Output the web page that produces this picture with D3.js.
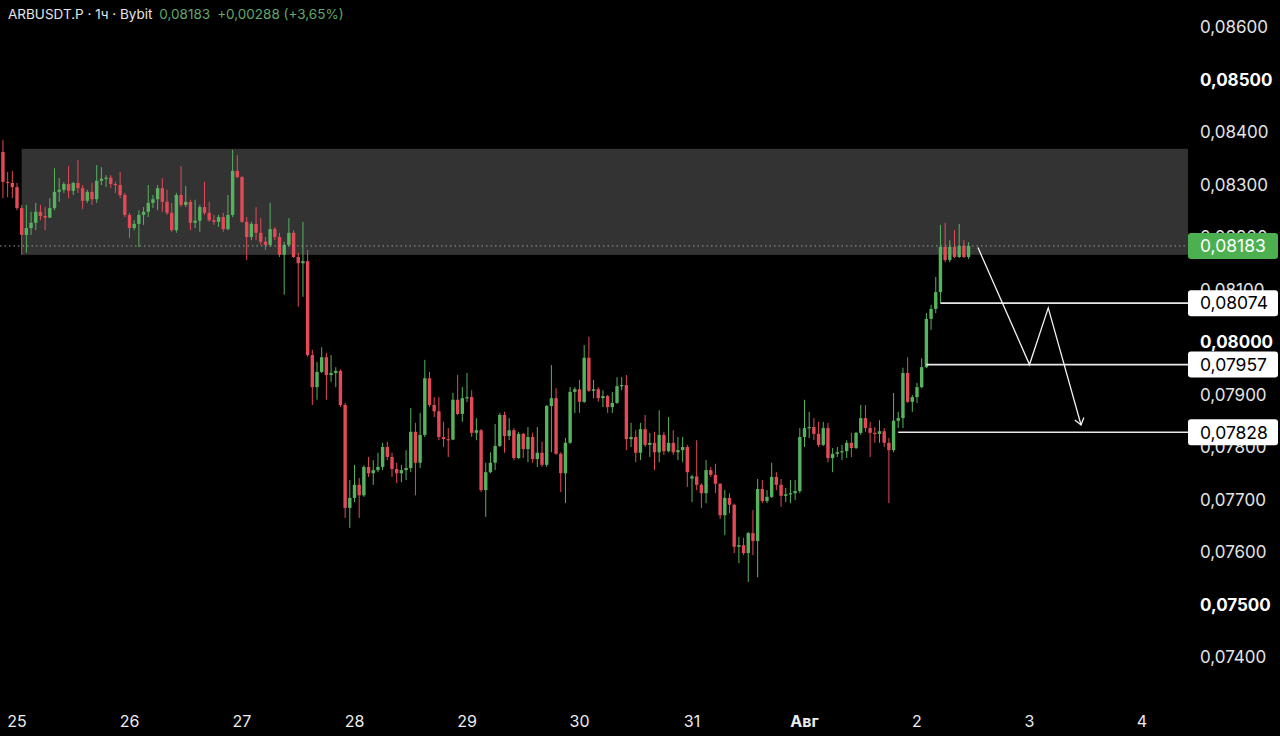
<!DOCTYPE html>
<html>
<head>
<meta charset="utf-8">
<script src="https://cdn.jsdelivr.net/npm/d3@7"></script>
<style>
  html, body { margin: 0; background: #000; }
  svg { display: block; font-family: Inter, "Noto Sans", sans-serif; }
</style>
</head>
<body>
<svg id="chart" width="1280" height="736"></svg>
<script>
// hourly candles, first one opens 24 Jul 21:00
var firstCandle = Date.UTC(2025, 6, 24, 21);
var HOUR = 3600 * 1000;

var opens = [
  0.08362, 0.08305, 0.08303,
  0.08295, 0.08255, 0.08204, 0.08217, 0.08227, 0.08248, 0.08240, 0.08237, 0.08255, 0.08286, 0.08290, 0.08301, 0.08288, 0.08303, 0.08293, 0.08269, 0.08286, 0.08272, 0.08307, 0.08311, 0.08313, 0.08301, 0.08299, 0.08280,
  0.08242, 0.08217, 0.08225, 0.08242, 0.08248, 0.08265, 0.08272, 0.08293, 0.08267, 0.08246, 0.08213, 0.08280, 0.08261, 0.08267, 0.08227, 0.08231, 0.08257, 0.08246, 0.08232, 0.08229, 0.08238, 0.08215, 0.08242, 0.08326,
  0.08314, 0.08229, 0.08200, 0.08225, 0.08208, 0.08191, 0.08185, 0.08215, 0.08200, 0.08166, 0.08185, 0.08208, 0.08162, 0.08150, 0.08154, 0.07975, 0.07914, 0.07943, 0.07971, 0.07937, 0.07941, 0.07945, 0.07880, 0.07684,
  0.07703, 0.07728, 0.07708, 0.07762, 0.07750, 0.07756, 0.07762, 0.07800, 0.07781, 0.07758, 0.07750, 0.07756, 0.07760, 0.07829, 0.07770, 0.07823, 0.07931, 0.07880, 0.07868, 0.07819, 0.07815, 0.07814, 0.07890, 0.07863,
  0.07893, 0.07895, 0.07827, 0.07832, 0.07718, 0.07752, 0.07770, 0.07802, 0.07861, 0.07821, 0.07832, 0.07779, 0.07825, 0.07796, 0.07819, 0.07777, 0.07789, 0.07766, 0.07878, 0.07893, 0.07787, 0.07750, 0.07808, 0.07905,
  0.07910, 0.07886, 0.07970, 0.07907, 0.07910, 0.07893, 0.07897, 0.07876, 0.07884, 0.07916, 0.07918, 0.07815, 0.07819, 0.07789, 0.07834, 0.07804, 0.07808, 0.07790, 0.07823, 0.07792, 0.07808, 0.07790, 0.07794, 0.07800,
  0.07740, 0.07744, 0.07728, 0.07712, 0.07756, 0.07747, 0.07730, 0.07670, 0.07703, 0.07690, 0.07610, 0.07613, 0.07598, 0.07636, 0.07621, 0.07720, 0.07697, 0.07705, 0.07743, 0.07728, 0.07707, 0.07710, 0.07712, 0.07716,
  0.07819, 0.07836, 0.07838, 0.07825, 0.07804, 0.07836, 0.07779, 0.07787, 0.07790, 0.07792, 0.07808, 0.07798, 0.07827, 0.07855, 0.07836, 0.07827, 0.07825, 0.07830, 0.07808, 0.07794, 0.07850, 0.07855, 0.07941, 0.07886,
  0.07895, 0.07914, 0.07952, 0.08044, 0.08063, 0.08095, 0.08181, 0.08156, 0.08181, 0.08162, 0.08183, 0.08162
];

var highs = [
  0.08385, 0.08324, 0.08326,
  0.08303, 0.08261, 0.08261, 0.08248, 0.08265, 0.08261, 0.08257, 0.08274, 0.08331, 0.08312, 0.08305, 0.08335, 0.08305, 0.08347, 0.08299, 0.08290, 0.08303, 0.08337, 0.08333, 0.08318, 0.08318, 0.08305, 0.08324, 0.08284,
  0.08246, 0.08232, 0.08251, 0.08257, 0.08299, 0.08280, 0.08299, 0.08312, 0.08290, 0.08265, 0.08284, 0.08335, 0.08297, 0.08271, 0.08271, 0.08261, 0.08305, 0.08267, 0.08242, 0.08242, 0.08246, 0.08280, 0.08366, 0.08356,
  0.08316, 0.08238, 0.08229, 0.08257, 0.08236, 0.08200, 0.08265, 0.08219, 0.08208, 0.08191, 0.08236, 0.08213, 0.08170, 0.08229, 0.08175, 0.07985, 0.07962, 0.07990, 0.07979, 0.07975, 0.07952, 0.07948, 0.07884, 0.07737,
  0.07766, 0.07741, 0.07765, 0.07781, 0.07775, 0.07789, 0.07808, 0.07810, 0.07789, 0.07770, 0.07766, 0.07794, 0.07874, 0.07846, 0.07865, 0.07966, 0.07943, 0.07895, 0.07895, 0.07848, 0.07836, 0.07903, 0.07937, 0.07914,
  0.07941, 0.07908, 0.07855, 0.07834, 0.07770, 0.07790, 0.07844, 0.07865, 0.07867, 0.07855, 0.07836, 0.07829, 0.07827, 0.07838, 0.07827, 0.07838, 0.07810, 0.07880, 0.07956, 0.07912, 0.07790, 0.07817, 0.07914, 0.07914,
  0.07928, 0.07994, 0.08010, 0.07928, 0.07914, 0.07908, 0.07899, 0.07905, 0.07933, 0.07933, 0.07937, 0.07846, 0.07832, 0.07846, 0.07861, 0.07827, 0.07829, 0.07870, 0.07829, 0.07857, 0.07832, 0.07819, 0.07819, 0.07804,
  0.07747, 0.07813, 0.07731, 0.07775, 0.07762, 0.07768, 0.07731, 0.07718, 0.07712, 0.07692, 0.07629, 0.07627, 0.07638, 0.07680, 0.07739, 0.07737, 0.07718, 0.07770, 0.07752, 0.07739, 0.07722, 0.07737, 0.07737, 0.07836,
  0.07890, 0.07867, 0.07855, 0.07848, 0.07848, 0.07846, 0.07798, 0.07800, 0.07804, 0.07813, 0.07827, 0.07829, 0.07880, 0.07880, 0.07848, 0.07838, 0.07851, 0.07836, 0.07817, 0.07903, 0.07867, 0.07951, 0.07971, 0.07899,
  0.07922, 0.07969, 0.08055, 0.08071, 0.08124, 0.08223, 0.08227, 0.08194, 0.08213, 0.08225, 0.08194, 0.08190
];

var lows = [
  0.08274, 0.08276, 0.08274,
  0.08251, 0.08166, 0.08170, 0.08204, 0.08213, 0.08232, 0.08213, 0.08236, 0.08251, 0.08267, 0.08284, 0.08274, 0.08280, 0.08284, 0.08253, 0.08265, 0.08261, 0.08265, 0.08299, 0.08295, 0.08293, 0.08284, 0.08274, 0.08238,
  0.08198, 0.08213, 0.08181, 0.08223, 0.08238, 0.08255, 0.08251, 0.08248, 0.08242, 0.08210, 0.08208, 0.08257, 0.08257, 0.08213, 0.08217, 0.08210, 0.08242, 0.08229, 0.08223, 0.08219, 0.08210, 0.08213, 0.08238, 0.08312,
  0.08227, 0.08156, 0.08194, 0.08194, 0.08185, 0.08175, 0.08181, 0.08194, 0.08162, 0.08090, 0.08181, 0.08160, 0.08067, 0.08086, 0.07972, 0.07880, 0.07890, 0.07941, 0.07890, 0.07924, 0.07914, 0.07876, 0.07665, 0.07646,
  0.07695, 0.07665, 0.07705, 0.07743, 0.07728, 0.07752, 0.07756, 0.07775, 0.07743, 0.07731, 0.07733, 0.07737, 0.07752, 0.07708, 0.07760, 0.07819, 0.07876, 0.07857, 0.07813, 0.07800, 0.07781, 0.07813, 0.07861, 0.07848,
  0.07886, 0.07819, 0.07813, 0.07714, 0.07667, 0.07750, 0.07756, 0.07800, 0.07789, 0.07813, 0.07775, 0.07777, 0.07779, 0.07771, 0.07770, 0.07762, 0.07762, 0.07762, 0.07790, 0.07785, 0.07714, 0.07693, 0.07806, 0.07865,
  0.07865, 0.07884, 0.07905, 0.07893, 0.07886, 0.07876, 0.07865, 0.07865, 0.07882, 0.07908, 0.07794, 0.07800, 0.07771, 0.07775, 0.07800, 0.07781, 0.07756, 0.07771, 0.07785, 0.07790, 0.07785, 0.07775, 0.07771, 0.07724,
  0.07695, 0.07718, 0.07684, 0.07693, 0.07743, 0.07712, 0.07663, 0.07632, 0.07674, 0.07598, 0.07579, 0.07594, 0.07543, 0.07594, 0.07552, 0.07693, 0.07693, 0.07703, 0.07718, 0.07686, 0.07695, 0.07693, 0.07699, 0.07712,
  0.07800, 0.07817, 0.07813, 0.07800, 0.07802, 0.07771, 0.07752, 0.07781, 0.07775, 0.07779, 0.07781, 0.07796, 0.07823, 0.07829, 0.07781, 0.07808, 0.07808, 0.07800, 0.07693, 0.07790, 0.07836, 0.07836, 0.07884, 0.07867,
  0.07884, 0.07912, 0.07950, 0.08023, 0.08055, 0.08074, 0.08152, 0.08152, 0.08160, 0.08160, 0.08160, 0.08158
];

var closes = [
  0.08305, 0.08303, 0.08295,
  0.08255, 0.08204, 0.08217, 0.08227, 0.08248, 0.08240, 0.08237, 0.08255, 0.08286, 0.08290, 0.08301, 0.08288, 0.08303, 0.08293, 0.08269, 0.08286, 0.08272, 0.08307, 0.08311, 0.08313, 0.08301, 0.08299, 0.08280, 0.08242,
  0.08217, 0.08225, 0.08242, 0.08248, 0.08265, 0.08272, 0.08293, 0.08267, 0.08246, 0.08213, 0.08280, 0.08261, 0.08267, 0.08227, 0.08231, 0.08257, 0.08246, 0.08232, 0.08229, 0.08238, 0.08215, 0.08242, 0.08326, 0.08314,
  0.08229, 0.08200, 0.08225, 0.08208, 0.08191, 0.08185, 0.08215, 0.08200, 0.08166, 0.08185, 0.08208, 0.08162, 0.08150, 0.08154, 0.07975, 0.07914, 0.07943, 0.07971, 0.07937, 0.07941, 0.07945, 0.07880, 0.07684, 0.07703,
  0.07728, 0.07708, 0.07762, 0.07750, 0.07756, 0.07762, 0.07800, 0.07781, 0.07758, 0.07750, 0.07756, 0.07760, 0.07829, 0.07770, 0.07823, 0.07931, 0.07880, 0.07868, 0.07819, 0.07815, 0.07814, 0.07890, 0.07863, 0.07893,
  0.07895, 0.07827, 0.07832, 0.07718, 0.07752, 0.07770, 0.07802, 0.07861, 0.07821, 0.07832, 0.07779, 0.07825, 0.07796, 0.07819, 0.07777, 0.07789, 0.07766, 0.07878, 0.07893, 0.07787, 0.07750, 0.07808, 0.07905, 0.07910,
  0.07886, 0.07970, 0.07907, 0.07910, 0.07893, 0.07897, 0.07876, 0.07884, 0.07916, 0.07918, 0.07815, 0.07819, 0.07789, 0.07834, 0.07804, 0.07808, 0.07790, 0.07823, 0.07792, 0.07808, 0.07790, 0.07794, 0.07800, 0.07752,
  0.07744, 0.07728, 0.07712, 0.07756, 0.07747, 0.07730, 0.07670, 0.07703, 0.07690, 0.07610, 0.07613, 0.07598, 0.07636, 0.07621, 0.07720, 0.07697, 0.07705, 0.07743, 0.07728, 0.07707, 0.07710, 0.07712, 0.07716, 0.07819,
  0.07836, 0.07838, 0.07825, 0.07804, 0.07836, 0.07779, 0.07787, 0.07790, 0.07792, 0.07808, 0.07798, 0.07827, 0.07855, 0.07836, 0.07827, 0.07825, 0.07830, 0.07808, 0.07794, 0.07850, 0.07855, 0.07941, 0.07886, 0.07895,
  0.07914, 0.07952, 0.08044, 0.08063, 0.08095, 0.08181, 0.08156, 0.08181, 0.08162, 0.08183, 0.08162, 0.08183
];

// grey supply zone
var zoneStart = "2025-07-25T01:00Z";
var zoneTop = 0.08368;
var zoneBottom = 0.08166;

// drawn levels and their labels
var levels = [0.08074, 0.07957, 0.07828];
var levelStarts = ["2025-08-02T05:00Z", "2025-08-02T02:00Z", "2025-08-01T20:00Z"];

// projected zig-zag path
var pathTimes = ["2025-08-02T13:00Z", "2025-08-03T00:00Z", "2025-08-03T04:00Z", "2025-08-03T11:00Z"];
var pathPrices = [0.08180, 0.07957, 0.08065, 0.07842];

var lastPrice = 0.08183;
var yTicks = [0.086, 0.085, 0.084, 0.083, 0.082, 0.081, 0.080, 0.079, 0.078, 0.077, 0.076, 0.075, 0.074];
var yBold = [0.085, 0.080, 0.075];
var xTickDates = ["2025-07-25", "2025-07-26", "2025-07-27", "2025-07-28", "2025-07-29", "2025-07-30",
                  "2025-07-31", "2025-08-01", "2025-08-02", "2025-08-03", "2025-08-04"];
var xTickLabels = ["25", "26", "27", "28", "29", "30", "31", "Авг", "2", "3", "4"];

var width = 1280, height = 736;
var plotRight = 1188;
var upColor = "#57b25f", downColor = "#e34a57";

var x = d3.scaleUtc()
    .domain([new Date("2025-07-25T00:00Z"), new Date("2025-08-04T00:00Z")])
    .range([17, 1142]);
var y = d3.scaleLinear()
    .domain([0.074, 0.086])
    .range([657, 27]);

var fmt = function (v) { return d3.format(".5f")(v).replace(".", ","); };

var candles = opens.map(function (o, i) {
    return { t: new Date(firstCandle + i * HOUR), o: o, h: highs[i], l: lows[i], c: closes[i] };
});

var svg = d3.select("#chart");
svg.append("rect").attr("width", width).attr("height", height).attr("fill", "#000");

svg.append("defs").append("clipPath").attr("id", "plotClip")
    .append("rect").attr("x", 0).attr("y", 0).attr("width", plotRight).attr("height", height);

var plot = svg.append("g").attr("clip-path", "url(#plotClip)");

// zone
plot.append("rect")
    .attr("x", x(new Date(zoneStart)))
    .attr("y", y(zoneTop))
    .attr("width", plotRight - x(new Date(zoneStart)))
    .attr("height", y(zoneBottom) - y(zoneTop))
    .attr("fill", "#333333");

// candles
var bodyW = 3.4;
var cg = plot.append("g");
cg.selectAll("line.wick")
    .data(candles)
    .join("line")
    .attr("class", "wick")
    .attr("x1", function (d) { return x(d.t); })
    .attr("x2", function (d) { return x(d.t); })
    .attr("y1", function (d) { return y(d.h); })
    .attr("y2", function (d) { return y(d.l); })
    .attr("stroke", function (d) { return d.c >= d.o ? upColor : downColor; })
    .attr("stroke-width", 1);

cg.selectAll("rect.body")
    .data(candles)
    .join("rect")
    .attr("class", "body")
    .attr("x", function (d) { return x(d.t) - bodyW / 2; })
    .attr("y", function (d) { return y(Math.max(d.o, d.c)); })
    .attr("width", bodyW)
    .attr("height", function (d) { return Math.max(1.2, Math.abs(y(d.o) - y(d.c))); })
    .attr("fill", function (d) { return d.c >= d.o ? upColor : downColor; });

// last price dotted line
plot.append("line")
    .attr("x1", 0).attr("x2", plotRight)
    .attr("y1", y(lastPrice)).attr("y2", y(lastPrice))
    .attr("stroke", "#8fa892")
    .attr("stroke-width", 1)
    .attr("stroke-dasharray", "1.5,3");

// horizontal levels
plot.selectAll("line.level")
    .data(levels)
    .join("line")
    .attr("class", "level")
    .attr("x1", function (d, i) { return x(new Date(levelStarts[i])); })
    .attr("x2", plotRight)
    .attr("y1", function (d) { return y(d); })
    .attr("y2", function (d) { return y(d); })
    .attr("stroke", "#e8e8e8")
    .attr("stroke-width", 1.6);

// zig-zag projection
var pts = pathTimes.map(function (t, i) { return [x(new Date(t)), y(pathPrices[i])]; });
plot.append("path")
    .attr("d", d3.line()(pts))
    .attr("fill", "none")
    .attr("stroke", "#f2f2f2")
    .attr("stroke-width", 1.3);

var tip = pts[pts.length - 1], prev = pts[pts.length - 2];
var ang = Math.atan2(tip[1] - prev[1], tip[0] - prev[0]);
var headLen = 8, spread = Math.PI / 5;
var head = [
    [tip[0] - headLen * Math.cos(ang - spread), tip[1] - headLen * Math.sin(ang - spread)],
    tip,
    [tip[0] - headLen * Math.cos(ang + spread), tip[1] - headLen * Math.sin(ang + spread)]
];
plot.append("path")
    .attr("d", d3.line()(head))
    .attr("fill", "none")
    .attr("stroke", "#f2f2f2")
    .attr("stroke-width", 1.3);

// price axis labels (some sit partly under the level boxes, as in the app)
svg.append("g").selectAll("text")
    .data(yTicks)
    .join("text")
    .attr("x", 1200)
    .attr("y", function (d) { return y(d); })
    .attr("dy", "0.36em")
    .attr("font-size", 17)
    .attr("font-weight", function (d) { return yBold.indexOf(d) >= 0 ? 700 : 400; })
    .attr("fill", function (d) { return yBold.indexOf(d) >= 0 ? "#ffffff" : "#e4e4e4"; })
    .text(fmt);

// level label boxes
var boxH = 26;
var lg = svg.append("g").selectAll("g")
    .data(levels)
    .join("g")
    .attr("transform", function (d) { return "translate(" + plotRight + "," + (y(d) - boxH / 2) + ")"; });
lg.append("rect")
    .attr("width", 90).attr("height", boxH).attr("rx", 3)
    .attr("fill", "#ffffff");
lg.append("text")
    .attr("x", 12).attr("y", boxH / 2).attr("dy", "0.36em")
    .attr("font-size", 17.5)
    .attr("fill", "#000")
    .text(fmt);

// current price box
var pg = svg.append("g").attr("transform", "translate(" + plotRight + "," + (y(lastPrice) - boxH / 2) + ")");
pg.append("rect").attr("width", 90).attr("height", boxH).attr("rx", 3).attr("fill", "#4caf50");
pg.append("text")
    .attr("x", 12).attr("y", boxH / 2).attr("dy", "0.36em")
    .attr("font-size", 17.5)
    .attr("fill", "#ffffff")
    .text(fmt(lastPrice));

// time axis labels
svg.append("g").selectAll("text")
    .data(xTickDates)
    .join("text")
    .attr("x", function (d) { return x(new Date(d + "T00:00Z")); })
    .attr("y", 727)
    .attr("text-anchor", "middle")
    .attr("font-size", 16)
    .attr("font-weight", function (d, i) { return xTickLabels[i] === "Авг" ? 700 : 400; })
    .attr("fill", "#ececec")
    .text(function (d, i) { return xTickLabels[i]; });

// header
var header = svg.append("text")
    .attr("x", 8).attr("y", 19)
    .attr("font-size", 13.5);
header.append("tspan").attr("fill", "#e6e6e6").text("ARBUSDT.P · 1ч · Bybit");
header.append("tspan").attr("fill", "#62a86a").attr("dx", 7).text("0,08183");
header.append("tspan").attr("fill", "#62a86a").attr("dx", 7).text("+0,00288 (+3,65%)");
</script>
</body>
</html>
